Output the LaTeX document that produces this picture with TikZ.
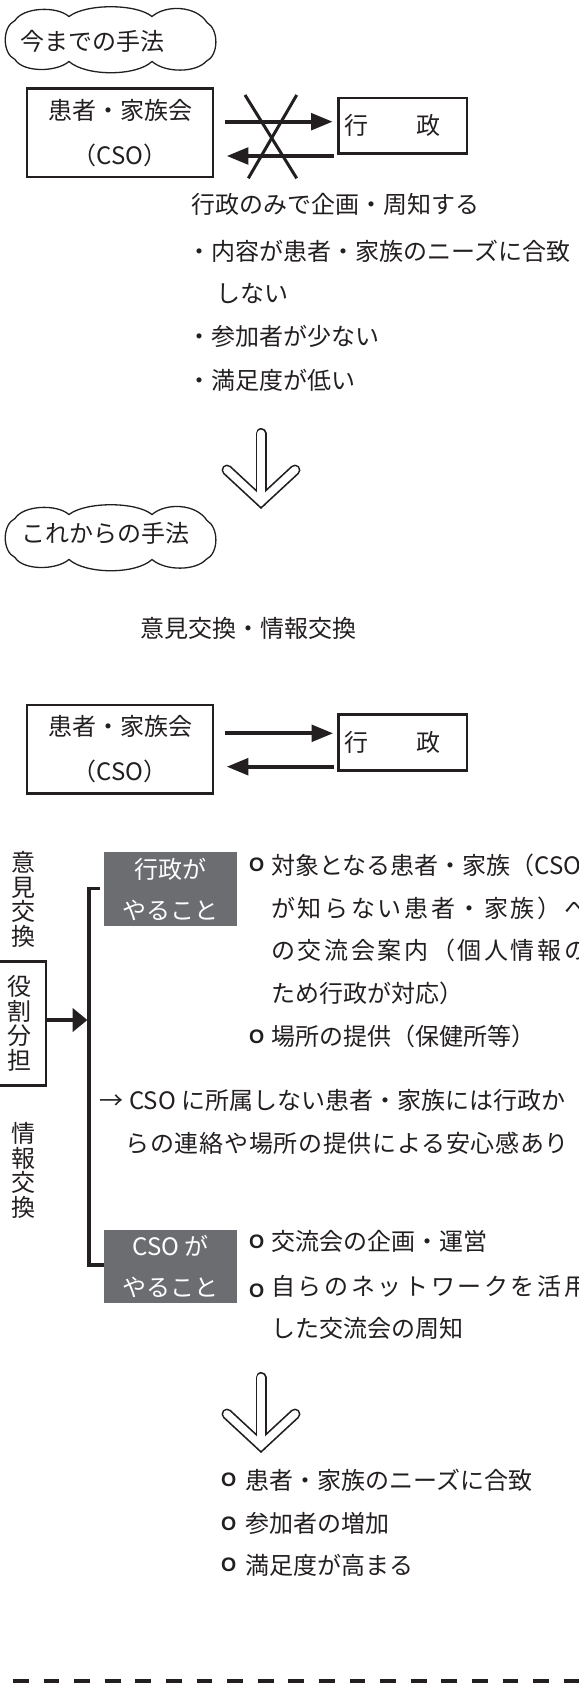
\documentclass[tikz,border=0pt]{standalone}
\usepackage{fontspec}
\setmainfont{Noto Sans CJK JP}
\newfontfamily\ringfont{Liberation Sans}
\usetikzlibrary{arrows.meta}
\definecolor{ink}{RGB}{35,31,32}
\definecolor{boxgray}{RGB}{108,109,112}
\newcommand\rg[2][2.3pt]{\makebox[#2][l]{\raisebox{#1}{\ringfont\bfseries\fontsize{19.5}{19.5}\selectfont O}}}
\tikzset{
  txt/.style={inner sep=0pt, anchor=west, text height=21pt, text depth=3pt, font=\fontsize{24}{24}\selectfont},
  bbox/.style={draw=ink, line width=2.6pt, inner sep=0pt},
  arr/.style={draw=ink, line width=4pt, -{Triangle[length=21.7pt,width=16.5pt]}},
  arrb/.style={draw=ink, line width=4pt, -{Triangle[length=14.7pt,width=23pt]}},
  graybox/.style={fill=boxgray, text=white, minimum width=132.3pt, minimum height=73.4pt, align=center, inner sep=0pt, font=\fontsize{24}{41}\selectfont},
  vtext/.style={align=center, inner sep=0pt, font=\fontsize{24}{24.5}\selectfont},
  cloudshape/.pic={
    \draw[ink, line width=1.3pt] (-96,-19) .. controls (-88,-32) and (-55,-34) .. (-42,-23)
      .. controls (-25,-36) and (25,-36) .. (41,-23)
      .. controls (55,-35) and (85,-34) .. (96,-17)
      .. controls (108,-10) and (108,16) .. (95,22)
      .. controls (85,33) and (55,34) .. (41,22)
      .. controls (25,37) and (-25,37) .. (-42,22)
      .. controls (-55,33) and (-88,33) .. (-96,20)
      .. controls (-109,14) and (-109,-13) .. cycle;
  },
  hollowdown/.pic={
    \draw[ink, line width=11pt, line cap=round, miter limit=10] (-34,-31.5) -- (0,0) -- (34,-31.5);
    \draw[ink, line width=11pt, line cap=round] (0,-68) -- (0,0);
    \draw[white, line width=7.6pt, line cap=round, miter limit=10] (-34,-31.5) -- (0,0) -- (34,-31.5);
    \draw[white, line width=7.6pt, line cap=round] (0,-68) -- (0,-2);
  }
}
\begin{document}
\begin{tikzpicture}[x=1pt, y=-1pt, every node/.style={text=ink}]
\useasboundingbox (0,0) rectangle (578,1685);

% ---------- former method ----------
\pic at (111,39.5) {cloudshape};
\node[txt, anchor=center] (c1) at (92,42) {今までの手法};
\node[bbox, minimum width=186pt, minimum height=88.7pt, align=center, font=\fontsize{24}{45}\selectfont] (cso1) at (120,132.8) {患者・家族会\\（CSO）};
\node[bbox, minimum width=128.4pt, minimum height=55.7pt, font=\fontsize{24}{24}\selectfont] (gyo1) at (402.7,125.8) {\makebox[115.8pt][l]{行　　政}};
\coordinate (ra1) at (0,121.7);
\coordinate (la1) at (0,156);
\draw[arr, shorten <=10.7pt, shorten >=4.5pt] (cso1.east |- ra1) -- (gyo1.west |- ra1);
\draw[arr, shorten <=3pt, shorten >=12.4pt] (gyo1.west |- la1) -- (cso1.east |- la1);
\draw[ink, line width=3pt] (245,95) -- (296.7,178.3);
\draw[ink, line width=3pt] (296.7,95) -- (248.3,178.3);

\node[txt] (t1) at (191.7,205) {行政のみで企画・周知する};
\node[txt] (t2) at (187,251.7) {・内容が患者・家族のニーズに合致};
\node[txt] (t3) at (216,293.3) {しない};
\node[txt] (t4) at (187,336.7) {・参加者が少ない};
\node[txt] (t5) at (187,380) {・満足度が低い};

\pic at (261,501.5) {hollowdown};

% ---------- new method ----------
\pic at (111,537.5) {cloudshape};
\node[txt, anchor=center] (c2) at (105,533) {これからの手法};
\node[txt, anchor=center] (ex) at (248.7,628) {意見交換・情報交換};
\node[bbox, minimum width=186pt, minimum height=88.7pt, align=center, font=\fontsize{24}{45}\selectfont] (cso2) at (120,749.2) {患者・家族会\\（CSO）};
\node[bbox, minimum width=128.4pt, minimum height=55.7pt, font=\fontsize{24}{24}\selectfont] (gyo2) at (402.7,742.5) {\makebox[115.8pt][l]{行　　政}};
\coordinate (ra2) at (0,733.3);
\coordinate (la2) at (0,766.7);
\draw[arr, shorten <=10.7pt, shorten >=4pt] (cso2.east |- ra2) -- (gyo2.west |- ra2);
\draw[arr, shorten <=3pt, shorten >=12.4pt] (gyo2.west |- la2) -- (cso2.east |- la2);

% ---------- role sharing ----------
\node[vtext] (v1) at (24,899.5) {意\\見\\交\\換};
\node[bbox, vtext, minimum width=52pt, minimum height=124pt] (yaku) at (20,1023.5) {役\\割\\分\\担};
\node[vtext] (v2) at (24,1170.5) {情\\報\\交\\換};

\coordinate (btend) at (100,888.3);
\coordinate (bt) at (89,888.3);
\coordinate (bm) at (89,1020);
\coordinate (bb) at (89,1265);
\node[graybox] (g1) at (170.5,889) {行政が\\やること};
\node[graybox] (g2) at (170.5,1266.7) {CSO が\\やること};
\draw[ink, line width=3.3pt] (btend) -- (bt) -- (bb) -- (g2.west |- bb);
\draw[arrb, shorten >=1.6pt] (yaku.east |- bm) -- (bm);

\node[txt] (l1) at (248.8,865) {\rg{22.2pt}対象となる患者・家族（CSO};
\node[txt] (l2) at (271,908.3) {\addfontfeature{LetterSpace=11}が知らない患者・家族）へ};
\node[txt] (l3) at (271,950) {\addfontfeature{LetterSpace=11}の交流会案内（個人情報の};
\node[txt] (l4) at (271,993.3) {ため行政が対応）};
\node[txt] (l5) at (248.8,1036.7) {\rg{22.2pt}場所の提供（保健所等）};
\node[txt] (l6) at (99.5,1100) {→ CSO に所属しない患者・家族には行政か};
\node[txt] (l7) at (125.3,1143.3) {\addfontfeature{LetterSpace=3}らの連絡や場所の提供による安心感あり};
\node[txt] (l8) at (248.8,1241.7) {\rg{22.2pt}交流会の企画・運営};
\node[txt] (l9) at (248.8,1286.7) {\rg[-1.5pt]{22.2pt}\addfontfeature{LetterSpace=11}自らのネットワークを活用};
\node[txt] (l10) at (271,1328.3) {した交流会の周知};

\pic at (261,1445.5) {hollowdown};

\node[txt] (r1) at (221,1480) {\rg{24pt}患者・家族のニーズに合致};
\node[txt] (r2) at (221,1523.3) {\rg{24pt}参加者の増加};
\node[txt] (r3) at (221,1565) {\rg{24pt}満足度が高まる};

\draw[ink, line width=4pt, dash pattern=on 15.8pt off 14.8pt] (12.9,1681) -- (590,1681);
\end{tikzpicture}
\end{document}
